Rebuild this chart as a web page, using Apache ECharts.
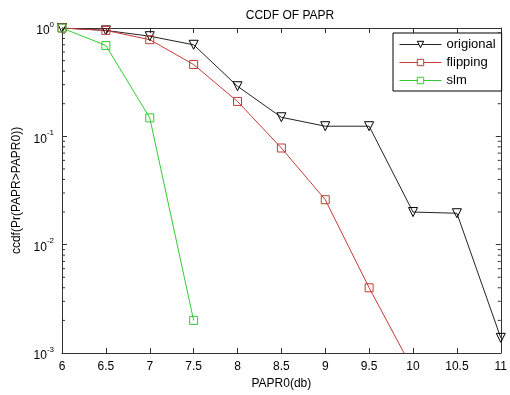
<!DOCTYPE html>
<html><head><meta charset="utf-8">
<script src="https://cdn.jsdelivr.net/npm/echarts@6/dist/echarts.min.js"></script>
<style>html,body{margin:0;padding:0;background:#fff}#c{width:510px;height:395px}</style>
</head><body><div id="c"></div>
<script>
const xValues = [6, 6.5, 7, 7.5, 8, 8.5, 9, 9.5, 10, 10.5, 11];
const original = [1.0, 0.95, 0.84, 0.70, 0.29, 0.15, 0.124, 0.124, 0.020, 0.0195, 0.00138];
const flipping = [1.0, 0.95, 0.78, 0.46, 0.21, 0.078, 0.026, 0.004, 0.0007];
const slm = [1.0, 0.69, 0.148, 0.002];
const xTickLabels = ['6','6.5','7','7.5','8','8.5','9','9.5','10','10.5','11'];

const FONT = 'Liberation Sans';
const minorVals = [];
for (let e = -3; e < 0; e++) for (let m = 2; m <= 9; m++) minorVals.push(m * Math.pow(10, e));

const pairs = (ys) => ys.map((y, i) => [xValues[i], y]);
const chart = echarts.init(document.getElementById('c'));
const axisLine = { show: true, lineStyle: { color: '#333', width: 1 } };
chart.setOption({
  animation: false,
  title: { text: 'CCDF OF PAPR', left: 285, top: 5, textAlign: 'center',
    textStyle: { fontFamily: FONT, fontSize: 12, fontWeight: 'normal', color: '#000' } },
  grid: { left: 62, right: 2, top: 28, bottom: 37 },
  legend: {
    orient: 'vertical', left: 393, top: 33, width: 108,
    data: ['origional', 'flipping', 'slm'],
    borderColor: '#000', borderWidth: 1, backgroundColor: '#fff',
    padding: [5, 6, 4, 6], itemGap: 5, itemWidth: 42, itemHeight: 8,
    itemStyle: { color: '#fff', borderWidth: 1 },
    lineStyle: { width: 1 },
    textStyle: { fontFamily: FONT, fontSize: 13, color: '#000' }
  },
  xAxis: [{
    type: 'value', min: 6, max: 11, interval: 0.5,
    name: 'PAPR0(db)', nameLocation: 'middle', nameGap: 25,
    nameTextStyle: { fontFamily: FONT, fontSize: 12, color: '#000' },
    axisLine, axisTick: { inside: true, length: 5, lineStyle: { color: '#333' } },
    axisLabel: { fontFamily: FONT, fontSize: 12, color: '#000', margin: 8,
      formatter: (v) => { const i = xValues.indexOf(v); return i >= 0 ? xTickLabels[i] : ''; } },
    splitLine: { show: false }
  }, {
    type: 'value', position: 'top', min: 6, max: 11, interval: 0.5,
    axisLine, axisTick: { inside: true, length: 5, lineStyle: { color: '#333' } },
    axisLabel: { show: false }, splitLine: { show: false }
  }],
  yAxis: [{
    type: 'log', logBase: 10, min: 0.001, max: 1,
    name: 'ccdf(Pr(PAPR>PAPR0))', nameLocation: 'middle', nameGap: 35,
    nameTextStyle: { fontFamily: FONT, fontSize: 12, color: '#000' },
    axisLine, axisTick: { inside: true, length: 5, lineStyle: { color: '#333' } },
    axisLabel: { fontFamily: FONT, color: '#000', margin: 8,
      formatter: (v) => '{b|10}{s|' + Math.round(Math.log10(v)) + '}',
      rich: { b: { fontFamily: FONT, fontSize: 12, color: '#000', padding: [6, 0, 0, 0] },
              s: { fontFamily: FONT, fontSize: 8, color: '#000', padding: [0, 0, 7, 0] } } },
    splitLine: { show: false }
  }, {
    type: 'log', logBase: 10, min: 0.001, max: 1, position: 'right',
    axisLine, axisTick: { inside: true, length: 5, lineStyle: { color: '#333' } },
    axisLabel: { show: false }, splitLine: { show: false }
  }],
  series: [
    { name: 'origional', type: 'line', data: pairs(original),
      symbol: 'triangle', symbolRotate: 180, symbolSize: 9,
      lineStyle: { color: '#222', width: 1 }, itemStyle: { color: 'rgba(255,255,255,0)', borderColor: '#000', borderWidth: 1 } },
    { name: 'flipping', type: 'line', data: pairs(flipping),
      symbol: 'rect', symbolSize: 8,
      lineStyle: { color: '#c83a3a', width: 1 }, itemStyle: { color: 'rgba(255,255,255,0)', borderColor: '#c83a3a', borderWidth: 1 } },
    { name: 'slm', type: 'line', data: pairs(slm),
      symbol: 'rect', symbolSize: 8,
      lineStyle: { color: '#33cc33', width: 1 }, itemStyle: { color: 'rgba(255,255,255,0)', borderColor: '#33cc33', borderWidth: 1 } },
    { name: 'minor', type: 'custom', silent: true, clip: false,
      data: minorVals.map(v => [6, v]),
      renderItem: (params, api) => {
        const v = api.value(1);
        const pl = api.coord([6, v]);
        const pr = api.coord([11, v]);
        return { type: 'group', children: [
          { type: 'line', shape: { x1: pl[0], y1: pl[1], x2: pl[0] + 3, y2: pl[1] }, style: { stroke: '#333', lineWidth: 1 } },
          { type: 'line', shape: { x1: pr[0], y1: pr[1], x2: pr[0] - 3, y2: pr[1] }, style: { stroke: '#333', lineWidth: 1 } }
        ] };
      } }
  ]
});
</script></body></html>
